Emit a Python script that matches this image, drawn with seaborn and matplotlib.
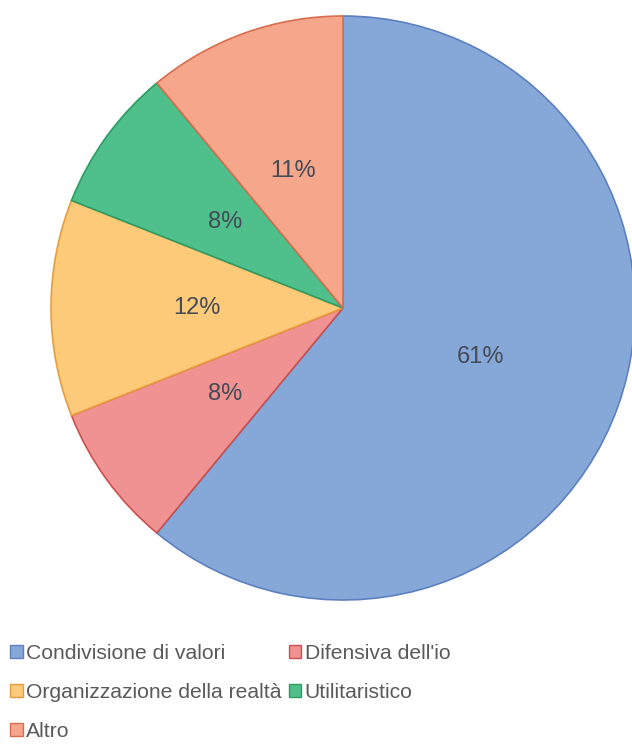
import seaborn as sns
import matplotlib.pyplot as plt
from matplotlib.patches import Patch

sns.set_theme(style="white")
plt.rcParams['font.family'] = ['Liberation Sans', 'DejaVu Sans']

# dati
categorie = ["Condivisione di valori", "Difensiva dell'io", "Organizzazione della realtà",
             "Utilitaristico", "Altro"]
valori = [61, 8, 12, 8, 11]
colori = ["#86a8d9", "#f19292", "#fdca7a", "#4fc08b", "#f5a68b"]
bordi = ["#5d80bf", "#c9504e", "#e89c3e", "#2c9c63", "#d96d4e"]

fig = plt.figure(figsize=(6.32, 7.54), dpi=100)
cx, cy, r = 343, 308, 292
ax = fig.add_axes([(cx - r) / 632, (754 - cy - r) / 754, 2 * r / 632, 2 * r / 754])

wedges, testi, pct = ax.pie(valori, colors=colori, startangle=90, counterclock=False,
                            autopct='%1.0f%%', pctdistance=0.5, radius=1,
                            wedgeprops=dict(linewidth=1.2),
                            textprops=dict(color="#454b55", fontsize=17))
for w, b in zip(wedges, bordi):
    w.set_edgecolor(b)
ax.set_xlim(-1, 1)
ax.set_ylim(-1, 1)
ax.axis('off')

# legenda (riempita per colonne)
maniglie = [Patch(facecolor=c, edgecolor=b, linewidth=1) for c, b in zip(colori, bordi)]
ordine = [0, 2, 4, 1, 3]
fig.legend([maniglie[i] for i in ordine], [categorie[i] for i in ordine],
           ncol=2, loc='upper left', bbox_to_anchor=(10 / 632, 1 - 644 / 754),
           frameon=False, fontsize=15.2, labelcolor="#5a5a5a",
           handlelength=0.6, handleheight=0.6, handletextpad=0.15,
           columnspacing=0.35, labelspacing=0.94, borderaxespad=0, borderpad=0)

fig.savefig("out.png", dpi=100)
